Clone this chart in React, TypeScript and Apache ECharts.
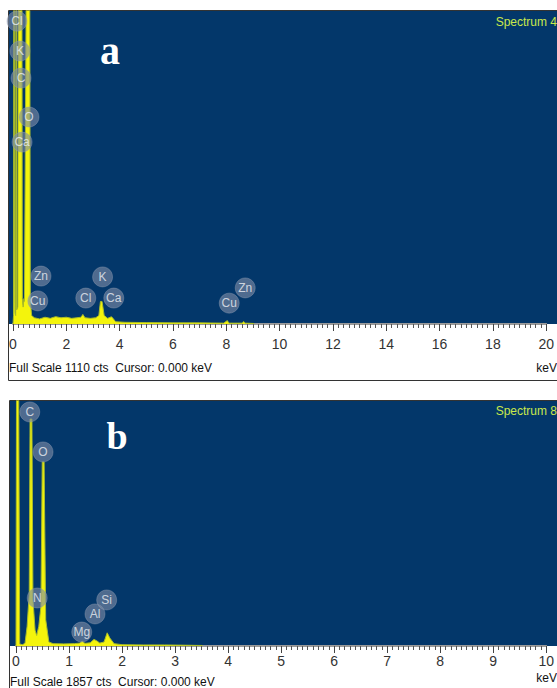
import React, { useEffect, useRef } from "react";
import * as echarts from "echarts";

// Panel a: spectrum (keV, counts)
const specA: number[][] = [
  [0, 0], [0.02, 30], [0.035, 1600], [0.06, 1600], [0.075, 40], [0.1, 30], [0.115, 1600],
  [0.125, 1600], [0.14, 50], [0.18, 60], [0.2, 1600], [0.33, 1600], [0.35, 90], [0.38, 60],
  [0.41, 90], [0.43, 80], [0.52, 1600], [0.62, 1600], [0.65, 80], [0.7, 30], [0.8, 22], [1.0, 18],
  [1.2, 24], [1.4, 20], [1.6, 26], [1.8, 22], [2.0, 24], [2.2, 20], [2.4, 22], [2.55, 24],
  [2.62, 34], [2.7, 22], [2.9, 20], [3.1, 22], [3.22, 30], [3.28, 80], [3.34, 80],
  [3.42, 30], [3.55, 20], [3.65, 24], [3.69, 26], [3.75, 20], [3.85, 8], [4.2, 6],
  [5, 5], [6, 4], [7, 4], [7.9, 3], [8.04, 12], [8.1, 3], [8.6, 3], [8.65, 9], [8.7, 3],
  [9.0, 2], [9.05, 0],
];
const labelsA = [
  { name: "Cl", value: [0.15, 1074] },
  { name: "K", value: [0.26, 968] },
  { name: "C", value: [0.3, 872] },
  { name: "O", value: [0.6, 734] },
  { name: "Ca", value: [0.34, 645] },
  { name: "Zn", value: [1.05, 170] },
  { name: "Cu", value: [0.93, 82] },
  { name: "Cl", value: [2.73, 92] },
  { name: "K", value: [3.36, 167] },
  { name: "Ca", value: [3.78, 92] },
  { name: "Cu", value: [8.11, 74] },
  { name: "Zn", value: [8.71, 128] },
];
const ticksA = { min: 0, max: 20, interval: 2 };
const fullScaleA = 1110;

// Panel b
const specB: number[][] = [
  [0, 0], [0.01, 2000], [0.05, 2000], [0.07, 15], [0.12, 10], [0.17, 20], [0.21, 150],
  [0.25, 400], [0.265, 1720], [0.30, 1720], [0.32, 350], [0.36, 120], [0.39, 80],
  [0.43, 150], [0.47, 300], [0.495, 1395], [0.53, 1395], [0.56, 200], [0.62, 30],
  [0.7, 18], [0.9, 16], [1.1, 18], [1.2, 22], [1.25, 36], [1.3, 20], [1.4, 24],
  [1.47, 50], [1.52, 40], [1.58, 22], [1.66, 30], [1.72, 100], [1.77, 60], [1.85, 18],
  [2.0, 10], [2.4, 8], [2.8, 8], [3.2, 6], [3.5, 4], [3.52, 0],
];
const labelsB = [
  { name: "C", value: [0.26, 1774] },
  { name: "O", value: [0.51, 1471] },
  { name: "N", value: [0.4, 364] },
  { name: "Mg", value: [1.24, 106] },
  { name: "Al", value: [1.49, 243] },
  { name: "Si", value: [1.71, 349] },
];
const ticksB = { min: 0, max: 10, interval: 1 };
const fullScaleB = 1857;

const BLUE = "#03376a";
const FONT = "Liberation Sans Narrow, Arial Narrow, Liberation Sans, Arial, sans-serif";

function xAxisCfg(gridIndex: number, t: { min: number; max: number; interval: number }, margin: number, split: number) {
  return {
    type: "value",
    gridIndex,
    min: t.min,
    max: t.max,
    interval: t.interval,
    axisLine: { show: true, lineStyle: { color: "#9a9a9a", width: 2 } },
    axisTick: { show: true, length: 7, lineStyle: { color: "#444", width: 1 } },
    minorTick: { show: true, splitNumber: split, length: 4, lineStyle: { color: "#555", width: 1 } },
    splitLine: { show: false },
    axisLabel: { margin, color: "#333", fontSize: 14, fontFamily: FONT },
  };
}

function labelSeries(xi: number, data: any[]) {
  return {
    type: "scatter",
    xAxisIndex: xi,
    yAxisIndex: xi,
    symbol: "circle",
    symbolSize: 20,
    z: 5,
    itemStyle: { color: "rgba(125,140,165,0.78)", borderColor: "rgba(150,160,180,0.5)", borderWidth: 1 },
    label: { show: true, position: "inside", formatter: "{b}", color: "#eef0f4", fontSize: 12, fontFamily: FONT },
    data,
  };
}

function spectrumSeries(xi: number, data: number[][]) {
  return {
    type: "line",
    xAxisIndex: xi,
    yAxisIndex: xi,
    data,
    symbol: "none",
    clip: true,
    z: 3,
    lineStyle: { color: "#a9bc2a", width: 1 },
    areaStyle: { color: "#f4f40c", opacity: 1 },
  };
}

export default function App() {
  const ref = useRef<HTMLDivElement>(null);
  useEffect(() => {
    document.body.style.margin = "0";
    const chart = echarts.init(ref.current!, null, { renderer: "svg" });
    chart.setOption({
      animation: false,
      backgroundColor: "#ffffff",
      grid: [
        { left: 13, right: 9, top: 11, bottom: 364 },
        { left: 16, right: 10, top: 401, bottom: 42 },
      ],
      xAxis: [xAxisCfg(0, ticksA, 13, 10), xAxisCfg(1, ticksB, 8, 10)],
      yAxis: [
        { type: "value", gridIndex: 0, min: 0, max: fullScaleA, show: false },
        { type: "value", gridIndex: 1, min: 0, max: fullScaleB, show: false },
      ],
      graphic: [
        { type: "rect", z: -5, shape: { x: 9, y: 11, width: 548, height: 313 }, style: { fill: BLUE } },
        { type: "rect", z: -4, shape: { x: 8.5, y: 10.5, width: 560, height: 370 }, style: { fill: "none", stroke: "#333", lineWidth: 1 } },
        { type: "rect", z: -5, shape: { x: 10, y: 401, width: 547, height: 245 }, style: { fill: BLUE } },
        { type: "rect", z: -4, shape: { x: 9.5, y: 400.5, width: 560, height: 300 }, style: { fill: "none", stroke: "#333", lineWidth: 1 } },
        { type: "text", z: 50, style: { text: "Spectrum 4", x: 557, y: 22, textAlign: "right", textVerticalAlign: "middle", font: "12px " + FONT, fill: "#c9e84a" } },
        { type: "text", z: 50, style: { text: "Spectrum 8", x: 557, y: 411, textAlign: "right", textVerticalAlign: "middle", font: "12px " + FONT, fill: "#c9e84a" } },
        { type: "text", z: 50, style: { text: "a", x: 110, y: 50, textAlign: "center", textVerticalAlign: "middle", font: "bold 40px Liberation Serif, Times New Roman, serif", fill: "#ffffff" } },
        { type: "text", z: 50, style: { text: "b", x: 117, y: 436, textAlign: "center", textVerticalAlign: "middle", font: "bold 38px Liberation Serif, Times New Roman, serif", fill: "#ffffff" } },
        { type: "text", z: 50, style: { text: "Full Scale " + fullScaleA + " cts  Cursor: 0.000 keV", x: 9, y: 368, textAlign: "left", textVerticalAlign: "middle", font: "12px " + FONT, fill: "#111" } },
        { type: "text", z: 50, style: { text: "keV", x: 557, y: 368, textAlign: "right", textVerticalAlign: "middle", font: "12px " + FONT, fill: "#111" } },
        { type: "text", z: 50, style: { text: "Full Scale " + fullScaleB + " cts  Cursor: 0.000 keV", x: 10, y: 682, textAlign: "left", textVerticalAlign: "middle", font: "12px " + FONT, fill: "#111" } },
        { type: "text", z: 50, style: { text: "keV", x: 557, y: 678, textAlign: "right", textVerticalAlign: "middle", font: "12px " + FONT, fill: "#111" } },
      ],
      series: [
        spectrumSeries(0, specA),
        labelSeries(0, labelsA),
        spectrumSeries(1, specB),
        labelSeries(1, labelsB),
      ],
    });
    return () => chart.dispose();
  }, []);
  return <div ref={ref} style={{ width: 557, height: 688 }} />;
}
